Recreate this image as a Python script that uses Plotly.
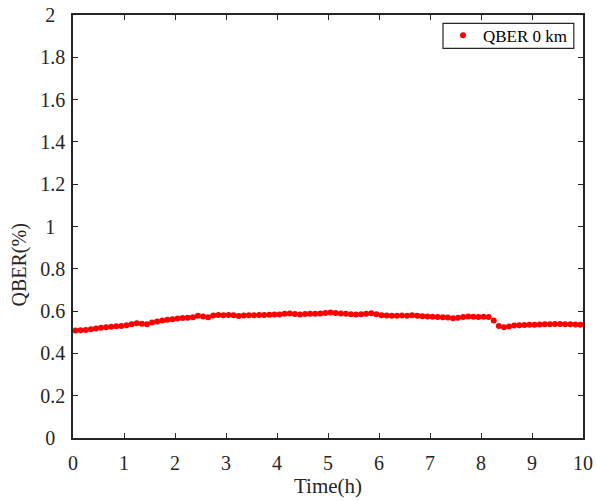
import plotly.graph_objects as go

time_h = [0.05, 0.15, 0.25, 0.35, 0.45, 0.55, 0.65, 0.75, 0.85, 0.95,
          1.05, 1.15, 1.25, 1.35, 1.45, 1.55, 1.65, 1.75, 1.85, 1.95,
          2.05, 2.15, 2.25, 2.35, 2.45, 2.55, 2.65, 2.75, 2.85, 2.95,
          3.05, 3.15, 3.25, 3.35, 3.45, 3.55, 3.65, 3.75, 3.85, 3.95,
          4.05, 4.15, 4.25, 4.35, 4.45, 4.55, 4.65, 4.75, 4.85, 4.95,
          5.05, 5.15, 5.25, 5.35, 5.45, 5.55, 5.65, 5.75, 5.85, 5.95,
          6.05, 6.15, 6.25, 6.35, 6.45, 6.55, 6.65, 6.75, 6.85, 6.95,
          7.05, 7.15, 7.25, 7.35, 7.45, 7.55, 7.65, 7.75, 7.85, 7.95,
          8.05, 8.15, 8.25, 8.35, 8.45, 8.55, 8.65, 8.75, 8.85, 8.95,
          9.05, 9.15, 9.25, 9.35, 9.45, 9.55, 9.65, 9.75, 9.85, 9.95]

qber_0km = [0.508, 0.509, 0.511, 0.514, 0.518, 0.521, 0.524, 0.526, 0.528, 0.529,
            0.533, 0.538, 0.543, 0.540, 0.538, 0.546, 0.551, 0.555, 0.559, 0.562,
            0.565, 0.567, 0.568, 0.571, 0.578, 0.575, 0.571, 0.579, 0.581, 0.580,
            0.582, 0.580, 0.577, 0.579, 0.580, 0.580, 0.581, 0.582, 0.583, 0.584,
            0.584, 0.587, 0.589, 0.586, 0.584, 0.586, 0.587, 0.588, 0.589, 0.591,
            0.593, 0.591, 0.589, 0.587, 0.585, 0.584, 0.585, 0.588, 0.590, 0.585,
            0.580, 0.579, 0.578, 0.578, 0.579, 0.578, 0.580, 0.578, 0.576, 0.575,
            0.573, 0.572, 0.571, 0.570, 0.566, 0.569, 0.572, 0.574, 0.573, 0.572,
            0.573, 0.572, 0.555, 0.530, 0.524, 0.527, 0.532, 0.533, 0.534, 0.535,
            0.536, 0.537, 0.538, 0.538, 0.539, 0.539, 0.538, 0.538, 0.537, 0.536]

x_ticks = [0, 1, 2, 3, 4, 5, 6, 7, 8, 9, 10]
y_ticks = [0, 0.2, 0.4, 0.6, 0.8, 1, 1.2, 1.4, 1.6, 1.8, 2]
y_tick_labels = ["0\u00a0\u00a0", "0.2", "0.4", "0.6", "0.8", "1\u00a0\u00a0",
                 "1.2", "1.4", "1.6", "1.8", "2\u00a0\u00a0"]

FONT = "Liberation Serif"
AX = "#262626"

fig = go.Figure()
fig.add_trace(go.Scatter(
    x=time_h, y=qber_0km, mode="markers", name="QBER 0 km",
    marker=dict(color="#ff0000", size=6, line=dict(width=0)),
))

axis_common = dict(
    showline=True, linecolor=AX, linewidth=1.5, mirror="ticks",
    ticks="inside", ticklen=5, tickwidth=1.2, tickcolor=AX,
    showgrid=False, zeroline=False, ticklabeloverflow="allow",
    tickfont=dict(family=FONT, size=20, color=AX),
)

fig.update_layout(
    width=597, height=501,
    margin=dict(l=73, r=14, t=15, b=63, autoexpand=False),
    paper_bgcolor="white", plot_bgcolor="white",
    font=dict(family=FONT, color=AX),
    xaxis=dict(range=[0, 10], tickvals=x_ticks, ticklabelstandoff=6,
               title=dict(text="Time(h)", font=dict(family=FONT, size=21, color=AX), standoff=4),
               **axis_common),
    yaxis=dict(range=[0, 2], tickvals=y_ticks, ticktext=y_tick_labels,
               ticklabelstandoff=2, **axis_common),
    annotations=[dict(
        text="QBER(%)", textangle=-90, xref="paper", yref="paper",
        x=-0.104, y=0.41, xanchor="center", yanchor="middle", showarrow=False,
        font=dict(family=FONT, size=20, color=AX),
    )],
    shapes=[dict(type="rect", xref="paper", yref="paper",
                 x0=0.7255, x1=0.982, y0=0.921, y1=0.980,
                 line=dict(color=AX, width=1.2), fillcolor="rgba(0,0,0,0)")],
    showlegend=True,
    legend=dict(x=0.7255, y=0.951, xanchor="left", yanchor="middle",
                borderwidth=0, bgcolor="rgba(0,0,0,0)",
                font=dict(family=FONT, size=17, color="black"),
                itemwidth=30, tracegroupgap=0),
)

fig.write_html("out.html", post_script="document.body.style.margin='0px';",
               config={"displayModeBar": False})
